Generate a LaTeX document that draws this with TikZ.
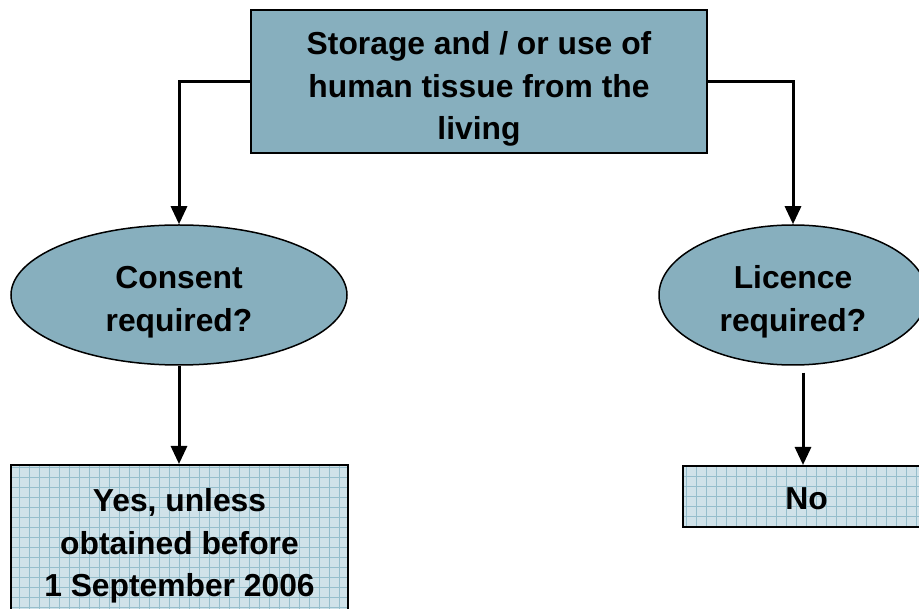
\documentclass[tikz,border=0pt]{standalone}
\usepackage{fontspec}
\setmainfont{Liberation Sans}
\usetikzlibrary{shapes.geometric,arrows.meta}
\definecolor{boxblue}{RGB}{135,175,190}
\definecolor{gridbase}{RGB}{208,226,233}
\definecolor{gridline}{RGB}{150,190,204}
\tikzset{
  x=1pt, y=1pt,
  txt/.style={font=\fontsize{31.8}{42.5}\selectfont\bfseries, align=center, text=black, inner sep=0pt},
  topbox/.style={draw=black, line width=2.5pt, fill=boxblue, rectangle, inner sep=0pt},
  oval/.style={draw=black, line width=1.5pt, fill=boxblue, ellipse, inner sep=0pt},
  gridbox/.style={draw=black, line width=2pt, fill=gridbase, rectangle, inner sep=0pt,
    path picture={\draw[gridline, line width=0.8pt, step=10pt]
      (path picture bounding box.south west) grid (path picture bounding box.north east);}},
  arr/.style={line width=3pt, -{Triangle[length=18pt,width=16pt]}}
}
\begin{document}
\begin{tikzpicture}
\useasboundingbox (0,0) rectangle (919,-609);
\clip (0,0) rectangle (919,-609);
\node[topbox, minimum width=456, minimum height=143] (top) at (479,-81.5) {};
\node[txt] (toptext) at (479,-89) {Storage and / or use of\\human tissue from the\\living};
\node[oval, minimum width=336, minimum height=140] (consent) at (179,-295) {};
\node[txt] (consenttext) at (179,-302) {Consent\\required?};
\node[oval, minimum width=268, minimum height=140] (licence) at (793,-295) {};
\node[txt] (licencetext) at (793,-302) {Licence\\required?};
\node[gridbox, minimum width=337, minimum height=165] (yes) at (179.5,-547.5) {};
\node[txt] (yestext) at (179.5,-546) {Yes, unless\\obtained before\\1 September 2006};
\node[gridbox, minimum width=247, minimum height=61] (no) at (806.5,-496.5) {};
\node[txt] (notext) at (806.5,-499) {No};
\coordinate (lsrc) at ([xshift=10pt,yshift=-7pt]licence.south);
\draw[arr] (top.west) -| (consent.north);
\draw[arr] (top.east) -| (licence.north);
\draw[arr] (consent.south) -- (consent.south |- yes.north);
\draw[arr] (lsrc) -- (lsrc |- no.north);
\end{tikzpicture}
\end{document}
